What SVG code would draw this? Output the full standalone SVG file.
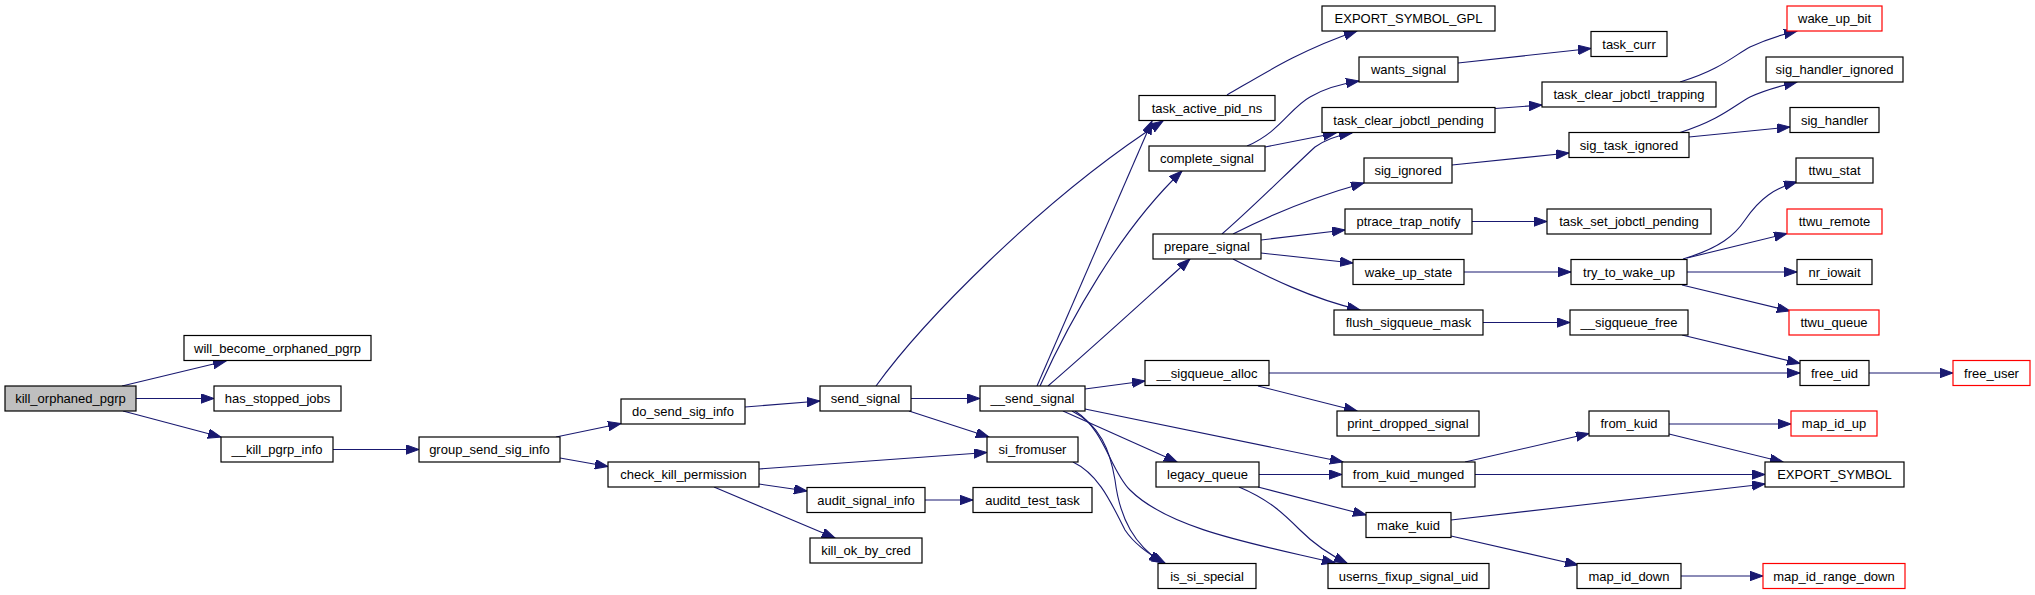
<svg xmlns="http://www.w3.org/2000/svg" width="2035" height="595" viewBox="0 0 2035 595">
<defs>
<style>
.node rect{fill:#ffffff;stroke:#000000;stroke-width:1.2}
.node.root rect{fill:#bfbfbf}
.node.red rect{stroke:#ff0000}
.node text{font-family:"Liberation Sans",Arial,sans-serif;font-size:13px;text-anchor:middle;fill:#000000}
.edges path{fill:none;stroke:#191970;stroke-width:1.1;marker-end:url(#arr)}
</style>
<marker id="arr" markerUnits="userSpaceOnUse" markerWidth="14" markerHeight="10" refX="13" refY="4.7" orient="auto">
<path d="M0,0 L13,4.7 L0,9.4 z" fill="#191970" stroke="#191970" stroke-width="1"/>
</marker>
</defs>
<rect width="2035" height="595" fill="#ffffff"/>
<g class="edges" id="edges">
<path d="M122,386 L226,361"/>
<path d="M136,398.5 L214,398.5"/>
<path d="M123,411 L221,437"/>
<path d="M333,449.5 L419,449.5"/>
<path d="M556,437 L621,423.5"/>
<path d="M560,458 L608,466.5"/>
<path d="M745,407 L820,401"/>
<path d="M911,398.5 L980,398.5"/>
<path d="M909,411 L989,437"/>
<path d="M759,469 L987,452.5"/>
<path d="M759,484 L807,491"/>
<path d="M714,487 L835,538"/>
<path d="M925,500 L973,500"/>
<path d="M876,386 C920,325 1040,200 1163,121"/>
<path d="M1037,386 L1152,121"/>
<path d="M1040,386 C1070,320 1120,230 1182,171"/>
<path d="M1048,386 C1090,350 1150,295 1190,259"/>
<path d="M1085,389 L1145,381"/>
<path d="M1085,409 L1343,462"/>
<path d="M1063,411 L1177,462"/>
<path d="M1072,411 C1100,425 1110,450 1115,480 C1120,520 1135,545 1162,563"/>
<path d="M1075,411 C1105,430 1110,470 1130,490 C1170,530 1260,545 1335,563"/>
<path d="M1073,462 C1100,475 1112,505 1125,530 C1135,545 1150,555 1165,563"/>
<path d="M1259,474.5 L1342,474.5"/>
<path d="M1258,487 L1366,515"/>
<path d="M1239,487 C1270,500 1285,515 1300,530 C1315,545 1330,555 1347,563"/>
<path d="M1269,373 L1800,373"/>
<path d="M1258,386 L1357,411"/>
<path d="M1247,146 C1280,132 1290,108 1310,97 C1325,88 1340,84 1359,81"/>
<path d="M1265,147 L1336,133"/>
<path d="M1222,234 C1250,210 1290,170 1315,147 C1325,140 1340,135 1352,133"/>
<path d="M1227,95 C1260,76 1300,50 1357,31"/>
<path d="M1233,234 C1270,215 1310,198 1364,183"/>
<path d="M1261,240 L1345,230"/>
<path d="M1261,253 L1353,263"/>
<path d="M1233,259 C1270,278 1310,298 1360,310"/>
<path d="M1458,63 L1591,48.5"/>
<path d="M1495,108.5 L1542,105"/>
<path d="M1680,82 C1720,70 1735,55 1750,47 C1765,40 1780,35 1797,31"/>
<path d="M1452,165 L1569,153"/>
<path d="M1680,132.5 C1720,120 1735,105 1750,97 C1765,90 1780,86 1797,82"/>
<path d="M1689,137 L1790,127"/>
<path d="M1472,221.5 L1547,221.5"/>
<path d="M1464,272 L1571,272"/>
<path d="M1683,259 C1720,248 1735,235 1745,220 C1760,198 1775,188 1797,182"/>
<path d="M1687,258 L1787,233.5"/>
<path d="M1687,272 L1797,272"/>
<path d="M1682,285 L1790,311"/>
<path d="M1483,322.5 L1570,322.5"/>
<path d="M1682,335 L1800,363.5"/>
<path d="M1869,373 L1953,373"/>
<path d="M1465,462 L1589,433.5"/>
<path d="M1475,474.5 L1765,474.5"/>
<path d="M1669,424 L1791,424"/>
<path d="M1669,434 L1783,462"/>
<path d="M1451,520 L1765,484"/>
<path d="M1451,536 L1578,565"/>
<path d="M1681,576 L1763,576"/>
</g>
<g id="n_kill_orphaned_pgrp" class="node root"><rect x="5" y="386" width="131" height="25"/><text x="70.5" y="403">kill_orphaned_pgrp</text></g>
<g id="n_will_become_orphaned_pgrp" class="node"><rect x="184" y="335.5" width="187" height="25"/><text x="277.5" y="352.5">will_become_orphaned_pgrp</text></g>
<g id="n_has_stopped_jobs" class="node"><rect x="214" y="386" width="127" height="25"/><text x="277.5" y="403">has_stopped_jobs</text></g>
<g id="n___kill_pgrp_info" class="node"><rect x="221" y="437" width="112" height="25"/><text x="277" y="454">__kill_pgrp_info</text></g>
<g id="n_group_send_sig_info" class="node"><rect x="419" y="437" width="141" height="25"/><text x="489.5" y="454">group_send_sig_info</text></g>
<g id="n_do_send_sig_info" class="node"><rect x="621" y="399" width="124" height="25"/><text x="683" y="416">do_send_sig_info</text></g>
<g id="n_check_kill_permission" class="node"><rect x="608" y="462" width="151" height="25"/><text x="683.5" y="479">check_kill_permission</text></g>
<g id="n_send_signal" class="node"><rect x="820" y="386" width="91" height="25"/><text x="865.5" y="403">send_signal</text></g>
<g id="n___send_signal" class="node"><rect x="980" y="386" width="105" height="25"/><text x="1032.5" y="403">__send_signal</text></g>
<g id="n_si_fromuser" class="node"><rect x="987" y="437" width="91" height="25"/><text x="1032.5" y="454">si_fromuser</text></g>
<g id="n_audit_signal_info" class="node"><rect x="807" y="487.5" width="118" height="25"/><text x="866" y="504.5">audit_signal_info</text></g>
<g id="n_auditd_test_task" class="node"><rect x="973" y="487.5" width="119" height="25"/><text x="1032.5" y="504.5">auditd_test_task</text></g>
<g id="n_kill_ok_by_cred" class="node"><rect x="810" y="538" width="112" height="25"/><text x="866" y="555">kill_ok_by_cred</text></g>
<g id="n_is_si_special" class="node"><rect x="1158" y="563.5" width="98" height="25"/><text x="1207" y="580.5">is_si_special</text></g>
<g id="n_task_active_pid_ns" class="node"><rect x="1139" y="95.5" width="136" height="25"/><text x="1207" y="112.5">task_active_pid_ns</text></g>
<g id="n_complete_signal" class="node"><rect x="1149" y="146" width="116" height="25"/><text x="1207" y="163">complete_signal</text></g>
<g id="n_prepare_signal" class="node"><rect x="1153" y="234" width="108" height="25"/><text x="1207" y="251">prepare_signal</text></g>
<g id="n___sigqueue_alloc" class="node"><rect x="1145" y="360.5" width="124" height="25"/><text x="1207" y="377.5">__sigqueue_alloc</text></g>
<g id="n_legacy_queue" class="node"><rect x="1156" y="462" width="103" height="25"/><text x="1207.5" y="479">legacy_queue</text></g>
<g id="n_EXPORT_SYMBOL_GPL" class="node"><rect x="1322" y="6" width="173" height="25"/><text x="1408.5" y="23">EXPORT_SYMBOL_GPL</text></g>
<g id="n_wants_signal" class="node"><rect x="1359" y="57" width="99" height="25"/><text x="1408.5" y="74">wants_signal</text></g>
<g id="n_task_clear_jobctl_pending" class="node"><rect x="1322" y="107.5" width="173" height="25"/><text x="1408.5" y="124.5">task_clear_jobctl_pending</text></g>
<g id="n_sig_ignored" class="node"><rect x="1364" y="158" width="88" height="25"/><text x="1408" y="175">sig_ignored</text></g>
<g id="n_ptrace_trap_notify" class="node"><rect x="1345" y="209" width="127" height="25"/><text x="1408.5" y="226">ptrace_trap_notify</text></g>
<g id="n_wake_up_state" class="node"><rect x="1353" y="259.5" width="111" height="25"/><text x="1408.5" y="276.5">wake_up_state</text></g>
<g id="n_flush_sigqueue_mask" class="node"><rect x="1334" y="310" width="149" height="25"/><text x="1408.5" y="327">flush_sigqueue_mask</text></g>
<g id="n_print_dropped_signal" class="node"><rect x="1337" y="411" width="142" height="25"/><text x="1408" y="428">print_dropped_signal</text></g>
<g id="n_from_kuid_munged" class="node"><rect x="1342" y="462" width="133" height="25"/><text x="1408.5" y="479">from_kuid_munged</text></g>
<g id="n_make_kuid" class="node"><rect x="1366" y="512.5" width="85" height="25"/><text x="1408.5" y="529.5">make_kuid</text></g>
<g id="n_userns_fixup_signal_uid" class="node"><rect x="1328" y="563.5" width="161" height="25"/><text x="1408.5" y="580.5">userns_fixup_signal_uid</text></g>
<g id="n_task_curr" class="node"><rect x="1591" y="31.5" width="76" height="25"/><text x="1629" y="48.5">task_curr</text></g>
<g id="n_task_clear_jobctl_trapping" class="node"><rect x="1542" y="82" width="174" height="25"/><text x="1629" y="99">task_clear_jobctl_trapping</text></g>
<g id="n_sig_task_ignored" class="node"><rect x="1569" y="132.5" width="120" height="25"/><text x="1629" y="149.5">sig_task_ignored</text></g>
<g id="n_task_set_jobctl_pending" class="node"><rect x="1547" y="209" width="164" height="25"/><text x="1629" y="226">task_set_jobctl_pending</text></g>
<g id="n_try_to_wake_up" class="node"><rect x="1571" y="259.5" width="116" height="25"/><text x="1629" y="276.5">try_to_wake_up</text></g>
<g id="n___sigqueue_free" class="node"><rect x="1570" y="310" width="118" height="25"/><text x="1629" y="327">__sigqueue_free</text></g>
<g id="n_from_kuid" class="node"><rect x="1589" y="411" width="80" height="25"/><text x="1629" y="428">from_kuid</text></g>
<g id="n_map_id_down" class="node"><rect x="1577" y="563.5" width="104" height="25"/><text x="1629" y="580.5">map_id_down</text></g>
<g id="n_wake_up_bit" class="node red"><rect x="1787" y="6" width="95" height="25"/><text x="1834.5" y="23">wake_up_bit</text></g>
<g id="n_sig_handler_ignored" class="node"><rect x="1766" y="57" width="137" height="25"/><text x="1834.5" y="74">sig_handler_ignored</text></g>
<g id="n_sig_handler" class="node"><rect x="1790" y="107.5" width="89" height="25"/><text x="1834.5" y="124.5">sig_handler</text></g>
<g id="n_ttwu_stat" class="node"><rect x="1796" y="158" width="77" height="25"/><text x="1834.5" y="175">ttwu_stat</text></g>
<g id="n_ttwu_remote" class="node red"><rect x="1787" y="209" width="95" height="25"/><text x="1834.5" y="226">ttwu_remote</text></g>
<g id="n_nr_iowait" class="node"><rect x="1797" y="259.5" width="75" height="25"/><text x="1834.5" y="276.5">nr_iowait</text></g>
<g id="n_ttwu_queue" class="node red"><rect x="1789" y="310" width="90" height="25"/><text x="1834" y="327">ttwu_queue</text></g>
<g id="n_free_uid" class="node"><rect x="1800" y="360.5" width="69" height="25"/><text x="1834.5" y="377.5">free_uid</text></g>
<g id="n_map_id_up" class="node red"><rect x="1791" y="411" width="86" height="25"/><text x="1834" y="428">map_id_up</text></g>
<g id="n_EXPORT_SYMBOL" class="node"><rect x="1765" y="462" width="139" height="25"/><text x="1834.5" y="479">EXPORT_SYMBOL</text></g>
<g id="n_map_id_range_down" class="node red"><rect x="1763" y="563.5" width="142" height="25"/><text x="1834" y="580.5">map_id_range_down</text></g>
<g id="n_free_user" class="node red"><rect x="1953" y="360.5" width="77" height="25"/><text x="1991.5" y="377.5">free_user</text></g>
</svg>
